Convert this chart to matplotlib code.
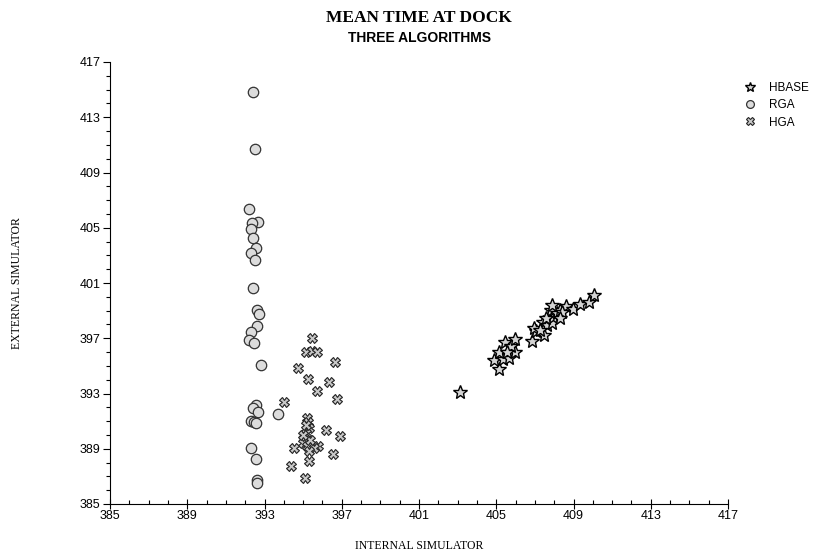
import numpy as np
import matplotlib
matplotlib.use("Agg")
import matplotlib.pyplot as plt
from matplotlib.ticker import MultipleLocator

# values
hbase_x = [403.12, 405.13, 404.88, 405.33, 405.65, 405.15, 405.96, 405.45, 405.76, 405.96,
           405.55, 406.83, 407.05, 406.96, 407.40, 407.48, 407.63, 407.89, 407.95, 407.83,
           408.17, 408.29, 407.91, 408.60, 408.38, 408.98, 409.36, 409.81, 410.05, 408.29,
           407.26, 407.57]
hbase_y = [393.09, 394.78, 395.43, 395.49, 395.56, 396.04, 396.04, 396.76, 396.45, 396.96,
           396.01, 396.83, 397.49, 397.73, 398.21, 397.25, 397.97, 398.14, 398.57, 399.06,
           398.82, 399.06, 399.42, 399.30, 398.93, 399.11, 399.49, 399.59, 400.14, 398.46,
           397.61, 398.48]

rga_x = [392.42, 392.51, 392.19, 392.64, 392.37, 392.28, 392.39, 392.54, 392.28, 392.49,
         392.42, 392.59, 392.73, 392.62, 392.30, 392.21, 392.45, 392.80, 392.56, 392.39,
         392.68, 392.28, 392.45, 392.56, 393.68, 392.28, 392.56, 392.59, 392.62]
rga_y = [414.80, 410.72, 406.38, 405.43, 405.31, 404.93, 404.25, 403.53, 403.14, 402.68,
         400.62, 399.06, 398.75, 397.92, 397.44, 396.88, 396.69, 395.07, 392.17, 391.93,
         391.69, 391.04, 390.96, 390.89, 391.50, 389.04, 388.24, 386.74, 386.50]

hga_x = [395.47, 395.13, 395.44, 395.73, 396.65, 394.75, 395.23, 396.35, 395.70, 396.73,
         394.01, 395.21, 395.26, 395.32, 395.13, 395.06, 396.21, 396.92, 394.99, 395.18,
         395.75, 395.57, 394.54, 395.30, 396.56, 395.30, 394.37, 395.09, 395.14, 395.35,
         394.99]
hga_y = [397.01, 396.04, 396.09, 395.99, 395.31, 394.83, 394.04, 393.82, 393.21, 392.59,
         392.41, 391.25, 390.96, 390.49, 390.12, 389.76, 390.36, 389.93, 389.40, 389.20,
         389.20, 389.04, 389.04, 388.86, 388.62, 388.14, 387.72, 386.86, 390.72, 389.64,
         390.00]

fig = plt.figure(figsize=(8.17, 5.6), dpi=100)
ax = fig.add_axes([110/817, 1-504/560, 618/817, 442/560])

ax.plot(hbase_x, hbase_y, ls='none', marker='*', ms=10.5, mfc='#d4d4d4', mec='black', mew=1.0, label='HBASE')
ax.plot(rga_x, rga_y, ls='none', marker='o', ms=7.5, mfc='#dcdcdc', mec='#333333', mew=0.9, label='RGA')
ax.plot(hga_x, hga_y, ls='none', marker='X', ms=7, mfc='#c8c8c8', mec='#222222', mew=0.8, label='HGA')

ax.set_xlim(385, 417)
ax.set_ylim(385, 417)
ax.set_xticks(np.arange(385, 418, 4))
ax.set_yticks(np.arange(385, 418, 4))
ax.xaxis.set_minor_locator(MultipleLocator(1))
ax.yaxis.set_minor_locator(MultipleLocator(1))
ax.spines['top'].set_visible(False)
ax.spines['right'].set_visible(False)
ax.tick_params(axis='x', which='major', direction='inout', length=7, width=0.8, labelsize=9, pad=1)
ax.tick_params(axis='x', which='minor', direction='in', length=3, width=0.8)
ax.tick_params(axis='y', which='major', direction='out', length=5, width=0.8, labelsize=9, pad=2)
ax.tick_params(axis='y', which='minor', direction='out', length=3, width=0.8)
for lbl in ax.get_xticklabels() + ax.get_yticklabels():
    lbl.set_family('Liberation Sans')

fig.text(419/817, 1-546/560, 'INTERNAL SIMULATOR', family='Liberation Serif', fontsize=8.5,
         ha='center', va='center')
fig.text(17/817, 1-283/560, 'EXTERNAL SIMULATOR', family='Liberation Serif', fontsize=8.5,
         ha='center', va='center', rotation=90)
fig.text(419/817, 1-18/560, 'MEAN TIME AT DOCK', family='Liberation Serif', fontsize=12.5,
         weight='bold', ha='center', va='center')
fig.text(419/817, 1-38/560, 'THREE ALGORITHMS', family='Liberation Sans', fontsize=10,
         weight='bold', ha='center', va='center')

leg = ax.legend(loc='upper left', bbox_to_anchor=(738/817, 1-76/560), bbox_transform=fig.transFigure,
                frameon=False, markerscale=0.75, handlelength=1.0, handletextpad=1.1,
                labelspacing=0.45, borderpad=0, prop={'family': 'Liberation Sans', 'size': 8.5})

fig.savefig('out.png', dpi=100)
